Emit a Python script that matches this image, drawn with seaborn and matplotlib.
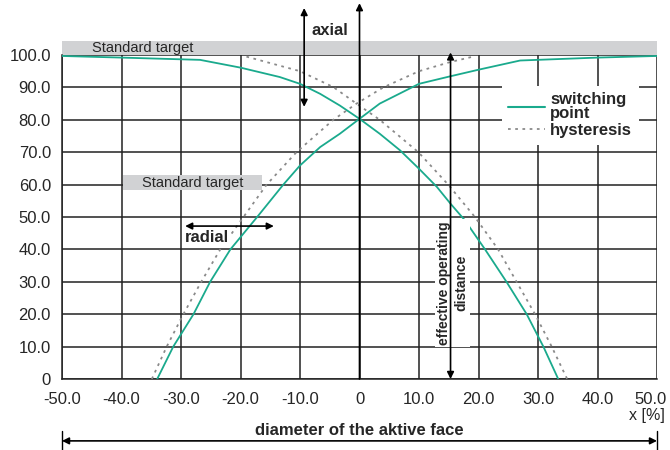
import numpy as np
import pandas as pd
import seaborn as sns
import matplotlib.pyplot as plt
import matplotlib.transforms as mtransforms
from matplotlib.patches import Rectangle
from matplotlib.lines import Line2D

# switching point, curve falling from the left (axial approach)
sw_fall_x = [-50, -40, -26.8, -20, -13.4, -10, -6.6, -3.3, 0, 3.4, 6.8, 10.0, 13.0, 15.3, 17.7, 21.1, 24.7, 28.1, 30.9, 33.4]
sw_fall_y = [99.7, 99.2, 98.5, 96.1, 93.2, 91.1, 88.0, 84.4, 80.3, 75.7, 70.6, 64.9, 59.3, 54.1, 49, 40, 30, 20, 10, 0]
# switching point, curve rising to the right (radial approach)
sw_rise_x = [-34.0, -31.3, -27.9, -25.1, -21.7, -17.2, -12.8, -10, -6.6, -3.3, 0, 3.4, 10, 15.2, 20.1, 27.0, 40, 50]
sw_rise_y = [0, 10, 20, 30, 40, 50, 60, 65.9, 71.6, 75.7, 80.3, 85.0, 91.1, 93.4, 95.5, 98.3, 99.2, 99.7]
# hysteresis curves
hy_fall_x = [-19.0, -10, -4.4, -0.5, 3.4, 9.9, 14.9, 19.4, 23.3, 26.4, 29.5, 32.3, 34.9]
hy_fall_y = [99.5, 95.0, 90.1, 85.0, 80, 70, 60, 50, 40, 30, 20, 10, 0]
hy_rise_x = [-34.9, -32.4, -29.6, -26.6, -23.4, -19.5, -15.6, -10.6, -4.4, -0.5, 4.0, 10, 15.2, 19.1]
hy_rise_y = [0, 10, 20, 30, 40, 50, 60, 70, 80, 85, 90, 95.0, 97.8, 99.5]

x_ticks = [-50, -40, -30, -20, -10, 0, 10, 20, 30, 40, 50]
x_tick_labels = ['-50.0', '-40.0', '-30.0', '-20.0', '-10.0', '0', '10.0', '20.0', '30.0', '40.0', '50.0']
y_ticks = [0, 10, 20, 30, 40, 50, 60, 70, 80, 90, 100]
y_tick_labels = ['0', '10.0', '20.0', '30.0', '40.0', '50.0', '60.0', '70.0', '80.0', '90.0', '100.0']

TEAL = '#1aaa8d'
DOTS = '#8a8a8a'
BAND = '#d1d2d4'
DOT_LS = (0, (1.5, 2.5))

sns.set_style('white')
plt.rcParams['font.family'] = ['Liberation Sans', 'DejaVu Sans']

fig = plt.figure(figsize=(6.7, 4.5), dpi=100)
ax = fig.add_axes([62 / 670, 71 / 450, 595 / 670, 324 / 450])

sns.lineplot(x=sw_fall_x, y=sw_fall_y, ax=ax, color=TEAL, lw=1.3, sort=False, zorder=3)
sns.lineplot(x=sw_rise_x, y=sw_rise_y, ax=ax, color=TEAL, lw=1.3, sort=False, zorder=3)
sns.lineplot(x=hy_fall_x, y=hy_fall_y, ax=ax, color=DOTS, lw=1.3, linestyle=DOT_LS, sort=False, zorder=3)
sns.lineplot(x=hy_rise_x, y=hy_rise_y, ax=ax, color=DOTS, lw=1.3, linestyle=DOT_LS, sort=False, zorder=3)

ax.set_xlim(-50, 50)
ax.set_ylim(0, 100)
ax.set_xticks(x_ticks)
ax.set_xticklabels(x_tick_labels)
ax.set_yticks(y_ticks)
ax.set_yticklabels(y_tick_labels)
ax.grid(True, color='#222222', lw=1.1)
ax.set_axisbelow(True)
ax.spines[['top', 'right']].set_visible(False)
for s in ['left', 'bottom']:
    ax.spines[s].set_color('#222222')
    ax.spines[s].set_linewidth(1.1)
ax.tick_params(axis='both', direction='out', length=6, width=1, color='#222222', labelsize=12)
ax.tick_params(axis='y', pad=2)
ax.tick_params(axis='x', pad=3)
ax.set_xlabel('')
ax.set_ylabel('')

# keep the last x label inside the figure
last = ax.get_xticklabels()[-1]
last.set_transform(last.get_transform() + mtransforms.ScaledTranslation(-5 / 72, 0, fig.dpi_scale_trans))

# standard target bands
ax.add_patch(Rectangle((-50, 100), 100, 4.3, facecolor=BAND, edgecolor='none', clip_on=False, zorder=0.2))
ax.text(-45, 102.2, 'Standard target', fontsize=10.5, ha='left', va='center')
ax.add_patch(Rectangle((-39.7, 58.2), 23.3, 4.7, facecolor=BAND, edgecolor='none', zorder=2))
ax.text(-28.1, 60.5, 'Standard target', fontsize=10.5, ha='center', va='center', zorder=2.5)

arr = dict(color='black', lw=1.2, mutation_scale=10, shrinkA=0, shrinkB=0)

# centre axis with arrow
ax.annotate('', xy=(0, 116), xytext=(0, 0), arrowprops=dict(arrowstyle='-|>', **arr),
            annotation_clip=False, zorder=4)
# axial
ax.annotate('', xy=(-9.3, 84), xytext=(-9.3, 114.5), arrowprops=dict(arrowstyle='<|-|>', **arr),
            annotation_clip=False, zorder=4)
ax.text(-5, 107.5, 'axial', fontsize=12, fontweight='bold', ha='center', va='center')
# radial
ax.text(-25.6, 43.6, 'radial', fontsize=12, fontweight='bold', ha='center', va='center', zorder=3,
        bbox=dict(facecolor='white', edgecolor='none', pad=1))
ax.annotate('', xy=(-14.4, 47.2), xytext=(-29.3, 47.2), arrowprops=dict(arrowstyle='<|-|>', **arr), zorder=4)
# effective operating distance
ax.text(15.6, 29.7, 'effective operating\ndistance', fontsize=10, fontweight='bold', rotation=90,
        ha='center', va='center', linespacing=1.3, zorder=3,
        bbox=dict(facecolor='white', edgecolor='none', pad=1.5))
ax.annotate('', xy=(15.3, 100.8), xytext=(15.3, 0), arrowprops=dict(arrowstyle='<|-|>', **arr),
            annotation_clip=False, zorder=4)

# diameter of the active face
ax.annotate('', xy=(50, -19.1), xytext=(-50, -19.1), arrowprops=dict(arrowstyle='<|-|>', **arr),
            annotation_clip=False)
ax.plot([-50, -50], [-16, -22.2], color='black', lw=1, clip_on=False)
ax.plot([50, 50], [-16, -22.2], color='black', lw=1, clip_on=False)
ax.text(0, -16.0, 'diameter of the aktive face', fontsize=12, fontweight='bold', ha='center', va='center')
ax.text(48.3, -11.4, 'x [%]', fontsize=11.5, ha='center', va='center')

handles = [Line2D([], [], color=TEAL, lw=1.5), Line2D([], [], color=DOTS, lw=1.3, linestyle=DOT_LS)]
leg = ax.legend(handles, ['switching\npoint', 'hysteresis'], loc='upper left', bbox_to_anchor=(0.739, 0.905),
                borderaxespad=0, borderpad=0.4, frameon=True, framealpha=1, facecolor='white',
                edgecolor='none', fancybox=False, prop=dict(weight='bold', size=12),
                handlelength=2.2, handletextpad=0.3, labelspacing=0.15)
for t in leg.get_texts():
    t.set_linespacing(0.85)

fig.savefig('out.png', dpi=100)
